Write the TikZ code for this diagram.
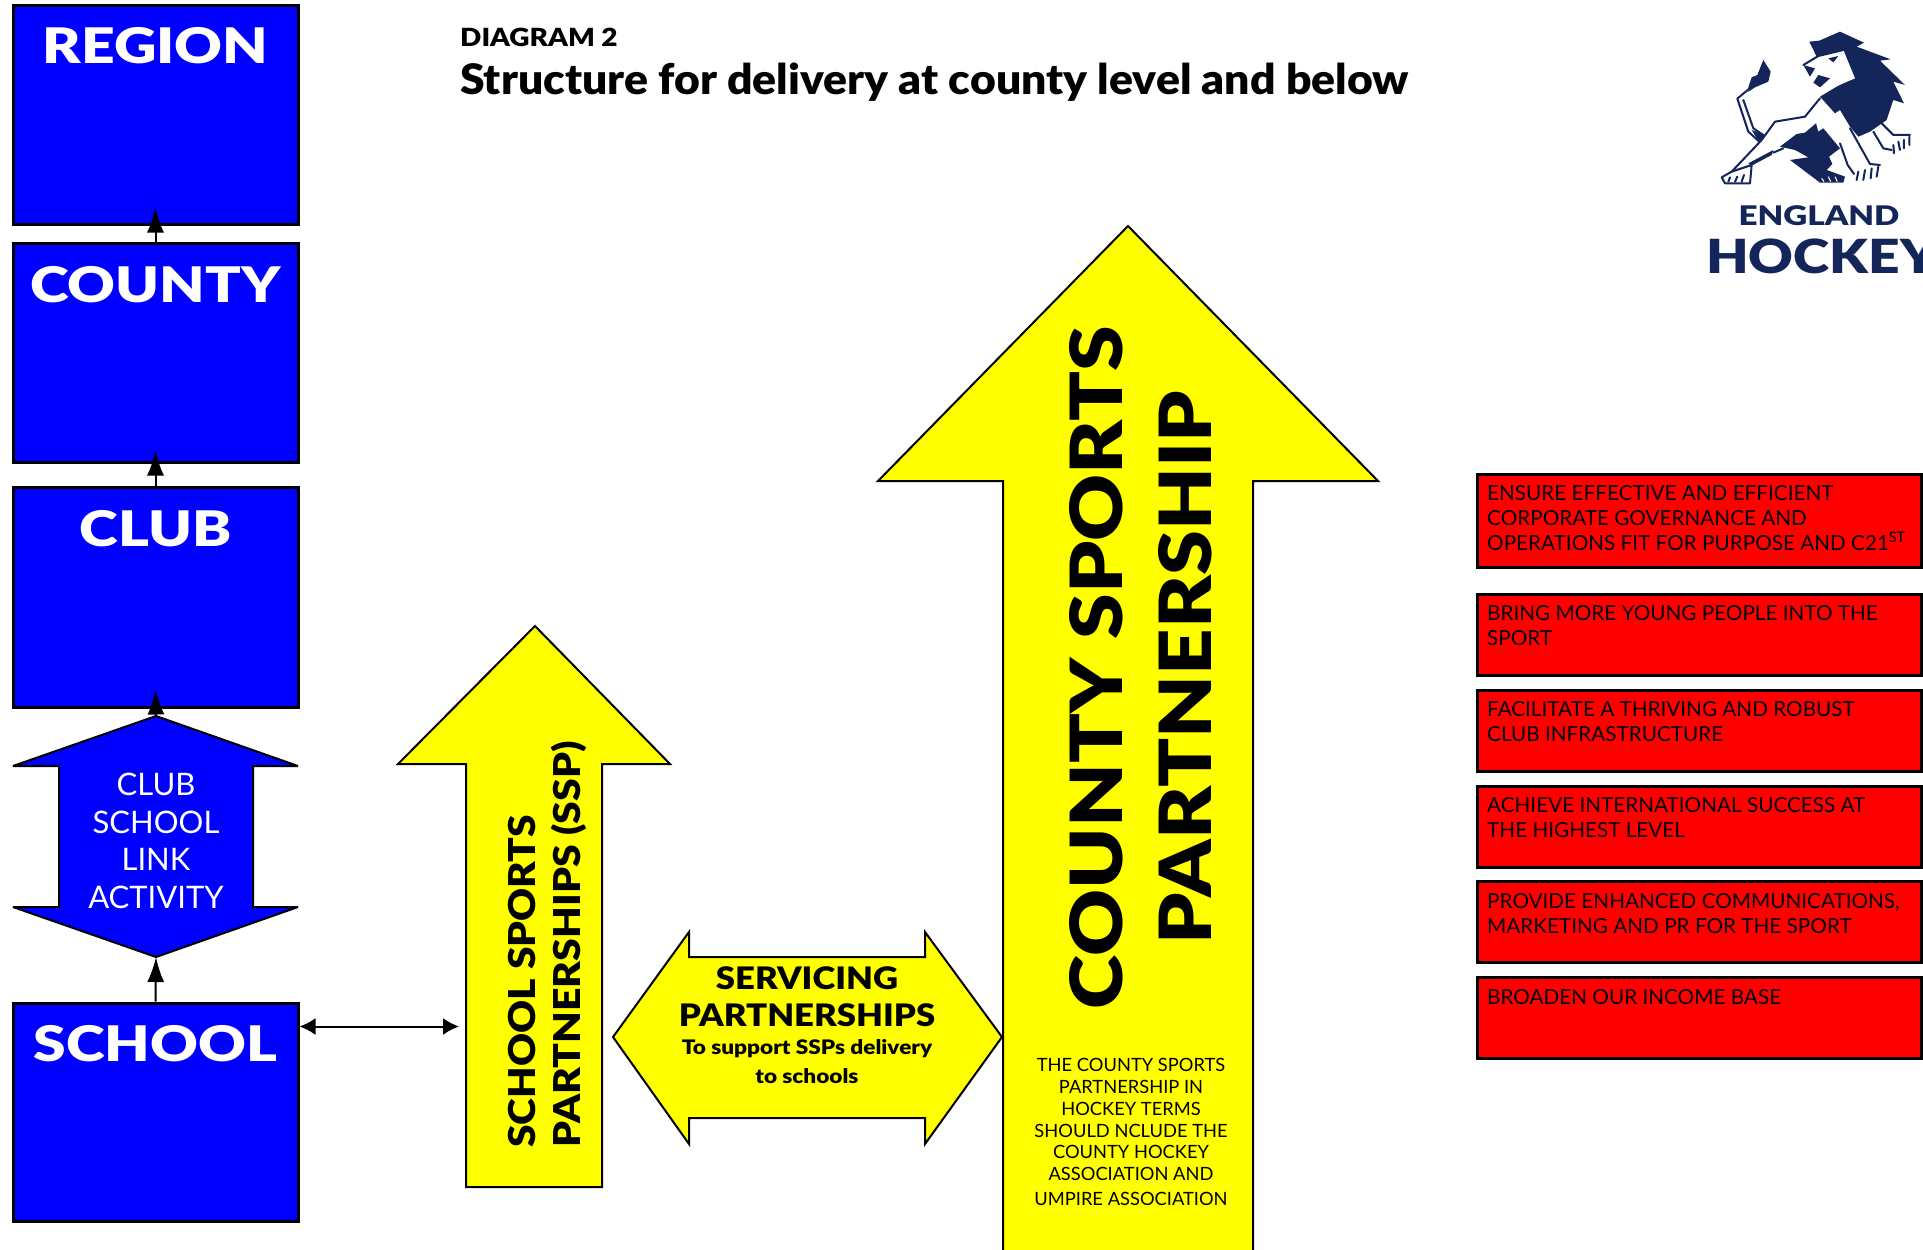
\documentclass[tikz,border=0pt]{standalone}
\usepackage{fontspec}
\usepackage{graphicx}
\setmainfont{Lato}
\newfontfamily\heavy{Lato Black}
\usetikzlibrary{arrows.meta}
\definecolor{navy}{HTML}{14255A}
\definecolor{pureyellow}{rgb}{1,1,0}
\definecolor{pureblue}{rgb}{0,0,1}
\definecolor{purered}{rgb}{1,0,0}
\newcommand{\wider}[2]{\scalebox{#1}[1]{#2}}
\tikzset{
 bluebox/.style={draw=black,line width=3pt,fill=pureblue,minimum width=285pt,inner sep=0pt},
 redbox/.style={draw=black,line width=3pt,fill=purered,minimum width=444pt,inner sep=0pt},
 boxtitle/.style={text=white,font=\fontsize{49}{49}\selectfont\heavy,inner sep=0pt},
 redtext/.style={anchor=north west,align=left,inner sep=0pt,text=black,font=\fontsize{20.7}{25}\selectfont},
 yarrow/.style={draw=black,line width=2pt,fill=pureyellow,line join=miter},
 conn/.style={line width=2pt,-{Latex[length=25pt,width=17pt]}},
 dbl/.style={line width=2pt,{Latex[length=16pt,width=17pt]}-{Latex[length=16pt,width=17pt]}},
 lionline/.style={draw=navy,line width=2pt,line join=round,line cap=round}
}
\begin{document}
\begin{tikzpicture}[x=1pt,y=-1pt]
\useasboundingbox (0,0) rectangle (1923,1250);
\clip (0,0) rectangle (1923,1250);
\fill[white] (0,0) rectangle (1923,1250);
% blue boxes
\node[bluebox,minimum height=219pt] (region) at (155.5,114.5) {};
\node[bluebox,minimum height=219pt] (county) at (155.5,352.5) {};
\node[bluebox,minimum height=220pt] (club) at (155.5,597) {};
\node[bluebox,minimum height=218pt] (school) at (155.5,1112) {};
\node[boxtitle] (regiont) at (155.5,46) {\wider{1.2}{REGION}};
\node[boxtitle] (countyt) at (155.5,285) {\wider{1.2}{COUNTY}};
\node[boxtitle] (clubt) at (155.5,529) {\wider{1.2}{CLUB}};
\node[boxtitle] (schoolt) at (155.5,1044) {\wider{1.2}{SCHOOL}};
% link arrow
\draw[draw=black,line width=2pt,fill=pureblue,line join=bevel] (156,716) -- (298,766) -- (253,766) -- (253,907) -- (298,907) -- (156,957) -- (13,907) -- (59,907) -- (59,766) -- (13,766) -- cycle;
\coordinate (hexN) at (156,716);
\coordinate (hexS) at (156,957);
\node[text=white,align=center,inner sep=0pt,font=\fontsize{31}{37.5}\selectfont] (hext) at (156,841) {CLUB\\SCHOOL\\LINK\\ACTIVITY};
% connectors
\draw[conn] (school.north) -- (hexS);
\draw[conn] (hexN) -- ([yshift=19pt]club.south);
\draw[conn] (club.north) -- ([yshift=13pt]county.south);
\draw[conn] (county.north) -- ([yshift=18pt]region.south);
% SSP arrow
\draw[yarrow] (535,626) -- (670,764) -- (602,764) -- (602,1187) -- (466,1187) -- (466,764) -- (398,764) -- cycle;
\coordinate (sspW) at (459,1026.5);
\draw[dbl] ([yshift=-25pt]school.north east) -- (sspW);
\node[rotate=90,anchor=base west,inner sep=0pt,font=\fontsize{37}{37}\selectfont\heavy] (ssp1) at (535,1148) {\wider{1.1}{SCHOOL SPORTS}};
\node[rotate=90,anchor=base west,inner sep=0pt,font=\fontsize{37}{37}\selectfont\heavy] (ssp2) at (580,1148) {\wider{1.107}{PARTNERSHIPS (SSP)}};
% servicing arrow
\draw[yarrow] (613,1037) -- (689,932) -- (689,957) -- (925,957) -- (925,932) -- (1002,1037) -- (925,1144) -- (925,1118) -- (689,1118) -- (689,1144) -- cycle;
\node[inner sep=0pt,font=\fontsize{31}{31}\selectfont\heavy] (serv1) at (807,978) {\wider{1.12}{SERVICING}};
\node[inner sep=0pt,font=\fontsize{31}{31}\selectfont\heavy] (serv2) at (807,1015) {\wider{1.12}{PARTNERSHIPS}};
\node[inner sep=0pt,font=\fontsize{20}{20}\selectfont\heavy] (serv3) at (807,1049) {\wider{1.13}{To support SSPs delivery}};
\node[inner sep=0pt,font=\fontsize{20}{20}\selectfont\heavy] (serv4) at (807,1076) {\wider{1.13}{to schools}};
% county arrow
\draw[yarrow] (1128,226) -- (1378,481) -- (1253,481) -- (1253,1260) -- (1003,1260) -- (1003,481) -- (878,481) -- cycle;
\node[rotate=90,anchor=base,inner sep=0pt,font=\fontsize{72}{72}\selectfont\heavy] (csp1) at (1122.7,667.5) {\wider{1.144}{COUNTY SPORTS}};
\node[rotate=90,anchor=base,inner sep=0pt,font=\fontsize{72}{72}\selectfont\heavy] (csp2) at (1211.7,668) {\wider{1.125}{PARTNERSHIP}};
\node[align=center,inner sep=0pt,font=\fontsize{18.3}{21.8}\selectfont] (cspt) at (1131,1132) {THE COUNTY SPORTS\\PARTNERSHIP IN\\HOCKEY TERMS\\SHOULD NCLUDE THE\\COUNTY HOCKEY\\ASSOCIATION AND\\[3pt]UMPIRE ASSOCIATION};
% titles
\node[anchor=west,inner sep=0pt,font=\fontsize{25}{25}\selectfont\heavy] (tit1) at (460,37) {\wider{1.12}{DIAGRAM 2}};
\node[anchor=west,inner sep=0pt,font=\fontsize{42}{42}\selectfont\heavy] (tit2) at (460,82) {\wider{1.06}{Structure for delivery at county level and below}};
% red boxes
\node[redbox,minimum height=93pt] (r1) at (1699,520.5) {};
\node[redbox,minimum height=81pt] (r2) at (1699,634.5) {};
\node[redbox,minimum height=81pt] (r3) at (1699,730.5) {};
\node[redbox,minimum height=81pt] (r4) at (1699,826.5) {};
\node[redbox,minimum height=81pt] (r5) at (1699,922) {};
\node[redbox,minimum height=81pt] (r6) at (1699,1018) {};
\node[redtext] (rt1) at (1487,485) {ENSURE EFFECTIVE AND EFFICIENT\\CORPORATE GOVERNANCE AND\\OPERATIONS FIT FOR PURPOSE AND C21\textsuperscript{ST}};
\node[redtext] (rt2) at (1487,605) {BRING MORE YOUNG PEOPLE INTO THE\\SPORT};
\node[redtext] (rt3) at (1487,701) {FACILITATE A THRIVING AND ROBUST\\CLUB INFRASTRUCTURE};
\node[redtext] (rt4) at (1487,797) {ACHIEVE INTERNATIONAL SUCCESS AT\\THE HIGHEST LEVEL};
\node[redtext] (rt5) at (1487,893) {PROVIDE ENHANCED COMMUNICATIONS,\\MARKETING AND PR FOR THE SPORT};
\node[redtext] (rt6) at (1487,989) {BROADEN OUR INCOME BASE};
% logo
\begin{scope}[shift={(1680,0)},x=0.3333pt,y=-0.3333pt]
\fill[navy] (388,125) -- (418,122) -- (480,95) -- (552,128) -- (530,140) -- (632,178) -- (600,182) -- (675,255) -- (640,245) -- (672,310) -- (640,300) -- (620,360) -- (570,395) -- (535,410) -- (510,380) -- (480,330) -- (465,340) -- (420,290) -- (470,260) -- (520,235) -- (490,150) -- (410,170) -- cycle;
\fill[white] (370,195) -- (415,168) -- (490,150) -- (525,235) -- (470,258) -- (415,280) -- (398,250) -- (405,215) -- cycle;
\draw[lionline] (370,195) -- (415,168) -- (490,150);
\fill[navy] (445,175) -- (475,168) -- (460,187) -- cycle;
\fill[navy] (370,195) -- (405,205) -- (390,230) -- cycle;
\fill[navy] (400,248) -- (415,225) -- (450,235) -- (420,262) -- cycle;
% tail
\fill[navy] (205,262) -- (215,232) -- (232,225) -- (250,180) -- (272,215) -- (265,245) -- (225,262) -- (205,275) -- cycle;
\draw[lionline] (215,260) -- (172,296) -- (205,395) -- (238,425);
\draw[lionline] (190,300) -- (220,385) -- (250,405);
\fill[navy] (215,390) -- (255,405) -- (238,428) -- cycle;
% body
\draw[lionline] (420,295) -- (375,350) -- (285,365) -- (245,420) -- (155,515);
\fill[navy] (205,490) -- (280,450) -- (275,465) -- (215,497) -- cycle;
\draw[lionline] (280,458) -- (310,445);
\draw[lionline] (125,532) -- (155,515) -- (215,495) -- (210,550) -- (135,550) -- cycle;
\draw[lionline] (150,532) -- (145,545) (172,530) -- (165,545) (192,525) -- (185,545);
\fill[navy] (300,440) -- (350,402) -- (375,398) -- (408,370) -- (415,395) -- (430,385) -- (480,445) -- (447,470) -- (457,492) -- (440,510) -- (495,530) -- (490,548) -- (420,548) -- (330,480) -- (385,472) -- (345,450) -- cycle;
\draw[lionline] (480,430) -- (503,495) -- (522,522);
\draw[lionline] (510,385) -- (570,492) -- (600,495);
\draw[lionline] (535,515) -- (530,540) (555,510) -- (550,540) (575,505) -- (572,535) (595,500) -- (590,530);
\draw[lionline] (600,365) -- (640,405) -- (690,405);
\draw[lionline] (580,395) -- (610,445) -- (635,450);
\draw[lionline] (640,435) -- (642,460) (655,425) -- (660,450) (672,420) -- (672,445) (688,410) -- (688,435);
\draw[white,line width=1pt] (425,535) -- (432,545) (445,530) -- (452,545) (465,530) -- (472,545);
\end{scope}
\node[anchor=center,inner sep=0pt,text=navy,font=\fontsize{27}{27}\selectfont\heavy] (eng) at (1819,216) {\wider{1.23}{ENGLAND}};
\node[anchor=west,inner sep=0pt,text=navy,font=\fontsize{47}{47}\selectfont\heavy] (hoc) at (1706,256) {\wider{1.17}{HOCKEY}};
\end{tikzpicture}
\end{document}
